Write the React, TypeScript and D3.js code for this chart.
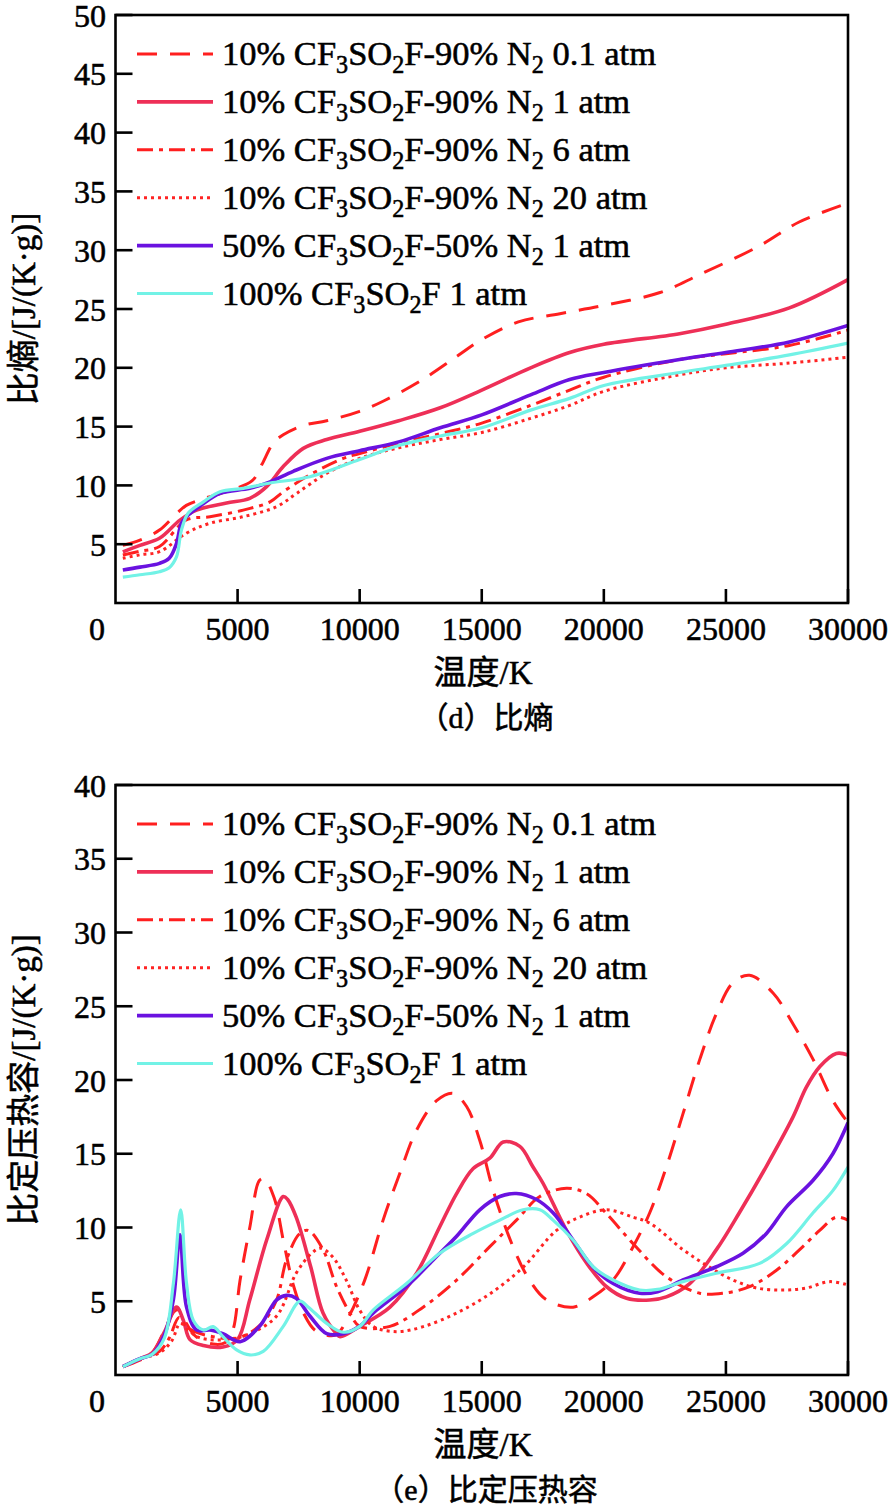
import React from "react";
import * as d3 from "d3";

type P = [number, number];

// ---------- (d) specific entropy, J/(K·g) ----------
const s_10_01atm: P[] = [[300,4.9],[1000,5.35],[1800,6.2],[2500,7.6],[2900,8.3],[3500,8.8],[4500,9.45],[5600,10.4],[6000,11.8],[6460,13.6],[6870,14.3],[7690,15.1],[8650,15.5],[10000,16.3],[11000,17.2],[12500,18.9],[14000,21.0],[15000,22.4],[16500,23.9],[18200,24.6],[20000,25.3],[22300,26.4],[23900,27.9],[26400,30.4],[28000,32.4],[30000,34.0]];
const s_10_1atm: P[] = [[300,4.35],[1000,4.9],[1800,5.5],[2640,7.05],[3320,7.9],[4550,8.5],[5500,8.9],[6190,9.9],[6870,11.6],[7690,13.15],[8650,13.9],[10000,14.6],[11600,15.5],[13300,16.6],[15000,18.1],[17000,20.0],[18600,21.3],[20000,22.0],[23100,22.9],[25000,23.7],[27600,25.1],[30000,27.5]];
const s_10_6atm: P[] = [[300,4.08],[1000,4.4],[1800,4.8],[2900,7.06],[3870,7.34],[5230,7.9],[6330,8.6],[6870,9.46],[7960,10.9],[9330,12.3],[10000,12.7],[11600,13.6],[13300,14.4],[15000,15.3],[17000,16.8],[18600,18.1],[20000,19.2],[23100,20.7],[25000,21.2],[27600,21.9],[30000,23.2]];
const s_10_20atm: P[] = [[300,3.8],[1000,4.1],[1800,4.36],[2900,5.93],[3870,6.78],[5230,7.34],[6600,8.19],[7420,9.32],[8650,11.03],[10000,12.3],[11600,13.2],[13300,13.9],[15000,14.5],[17000,15.7],[18600,16.8],[20000,18.0],[23100,19.4],[25000,20.0],[27600,20.4],[30000,20.9]];
const s_50_1atm: P[] = [[300,2.8],[1000,3.05],[1800,3.37],[2200,3.8],[2500,5.08],[2700,6.78],[2980,7.48],[3500,8.3],[4280,9.33],[5500,9.75],[6330,10.3],[7280,11.2],[8650,12.3],[10000,12.95],[11600,13.7],[13300,14.9],[15000,16.0],[17000,17.7],[18600,19.0],[20000,19.6],[23100,20.7],[25000,21.3],[27600,22.2],[30000,23.6]];
const s_100_1atm: P[] = [[300,2.2],[1000,2.4],[1800,2.66],[2200,3.0],[2500,3.94],[2700,6.2],[2980,7.65],[3600,8.6],[4280,9.47],[5230,9.75],[6330,10.2],[7960,10.74],[10000,12.2],[11600,13.4],[13300,14.2],[15000,14.9],[17000,16.4],[18600,17.4],[20000,18.5],[23100,19.6],[25000,20.2],[27600,21.1],[30000,22.1]];

// ---------- (e) specific heat at constant pressure, J/(K·g) ----------
const cp_10_01atm: P[] = [[300,0.56],[1000,1.0],[1500,1.5],[2000,3.0],[2400,4.3],[2600,4.4],[2900,3.5],[3300,2.6],[4000,2.1],[4500,2.2],[4800,3.0],[5100,6.4],[5500,10.0],[5900,13.2],[6100,13.3],[6500,12.0],[6900,8.9],[7300,6.0],[7700,4.2],[8200,3.0],[9000,2.7],[9500,3.8],[10200,6.4],[10960,10.5],[11650,13.7],[12330,16.6],[13150,18.6],[13830,19.1],[14380,18.2],[14920,15.9],[15470,12.5],[16280,8.7],[16970,6.4],[17650,5.1],[18740,4.6],[19560,5.3],[20380,6.44],[21200,8.7],[21880,11.0],[22560,14.1],[23240,17.7],[23930,21.4],[24610,24.5],[25290,26.6],[25970,27.1],[26930,25.9],[27750,23.8],[28570,21.4],[29380,18.6],[30000,17.1]];
const cp_10_1atm: P[] = [[300,0.56],[1000,1.1],[1500,1.5],[2000,2.9],[2500,4.6],[2780,3.7],[3050,2.4],[3600,2.0],[4400,1.9],[5000,2.4],[5500,5.1],[6200,9.2],[6870,12.1],[7050,11.9],[7400,10.7],[8000,7.3],[8500,4.2],[9050,2.8],[9200,2.6],[10000,3.3],[11240,4.6],[12330,6.9],[13280,10.05],[13970,12.3],[14650,14.0],[15330,14.7],[15880,15.8],[16560,15.5],[17100,14.1],[17510,13.0],[18470,9.8],[19290,7.6],[20100,6.0],[20930,5.2],[21880,5.08],[22560,5.3],[23520,6.2],[24610,8.5],[25550,11.0],[26640,14.1],[27750,17.5],[28290,19.5],[28840,20.9],[29520,21.8],[30000,21.7]];
const cp_10_6atm: P[] = [[300,0.56],[1000,1.1],[1800,1.6],[2200,2.5],[2600,3.9],[2900,3.3],[3300,2.9],[4000,2.6],[5000,2.5],[6000,3.5],[6600,5.1],[7000,7.8],[7550,9.6],[7900,9.8],[8500,8.5],[9050,6.0],[9600,4.2],[10000,3.3],[11240,3.3],[12600,4.6],[13970,6.44],[15330,8.7],[16420,10.5],[17380,12.1],[18470,12.66],[19290,12.3],[20100,10.96],[21200,8.9],[22560,6.66],[23930,5.54],[24880,5.54],[25970,5.99],[27070,7.1],[28020,8.5],[28840,9.8],[29520,10.7],[30000,10.5]];
const cp_10_20atm: P[] = [[300,0.56],[1000,1.1],[1800,1.5],[2300,2.3],[2650,3.5],[3000,3.0],[3500,2.5],[4500,2.4],[5500,2.8],[6600,4.0],[7400,6.9],[8000,8.2],[8400,8.6],[8900,8.0],[9460,6.4],[10000,4.4],[10550,3.3],[11510,2.94],[12600,3.28],[13970,4.2],[15330,5.5],[16690,7.3],[18060,9.8],[19010,10.7],[20100,11.2],[21200,10.7],[21880,10.3],[23240,8.5],[24340,7.3],[25290,6.44],[26250,5.9],[27340,5.76],[28290,5.9],[29250,6.33],[30000,6.1]];
const cp_50_1atm: P[] = [[300,0.56],[1000,1.1],[1500,1.4],[2000,2.7],[2370,5.1],[2640,9.5],[2910,4.6],[3320,3.05],[3870,3.05],[4400,2.8],[5100,2.26],[5900,3.3],[6600,5.1],[7000,5.4],[7400,5.2],[7960,4.0],[8650,2.8],[9330,2.8],[10000,3.3],[10550,4.2],[11920,6.0],[13010,7.8],[13970,9.4],[14920,11.2],[15740,12.1],[16420,12.3],[17240,11.9],[17920,11.0],[18740,9.15],[19560,7.3],[20380,6.2],[21470,5.54],[22200,5.65],[23240,6.44],[24610,7.34],[25700,8.25],[26660,9.6],[27480,11.4],[28570,13.2],[29380,15.0],[30000,17.1]];
const cp_100_1atm: P[] = [[300,0.56],[1000,1.1],[1500,1.4],[2000,2.5],[2370,6.2],[2670,11.2],[2910,6.2],[3190,3.7],[3600,3.05],[4000,3.28],[4400,2.6],[4960,1.7],[5500,1.36],[6050,1.6],[6870,3.3],[7550,5.0],[7900,4.6],[8650,3.5],[9330,2.9],[10000,3.3],[10550,4.4],[11920,6.2],[13280,8.25],[14650,9.6],[15740,10.5],[16690,11.2],[17380,11.2],[17920,10.5],[18740,9.15],[19560,7.34],[20380,6.44],[21470,5.76],[22200,5.8],[23240,6.33],[24610,6.9],[26380,7.57],[27480,8.9],[28570,11.0],[29380,12.5],[30000,14.1]];

// ---------- axes / legend text ----------
const xTicks = [5000, 10000, 15000, 20000, 25000, 30000];
const yTicksEntropy = [5, 10, 15, 20, 25, 30, 35, 40, 45, 50];
const yTicksCp = [5, 10, 15, 20, 25, 30, 35, 40];
const legendLabels = [
  "10% CF_3SO_2F-90% N_2 0.1 atm",
  "10% CF_3SO_2F-90% N_2 1 atm",
  "10% CF_3SO_2F-90% N_2 6 atm",
  "10% CF_3SO_2F-90% N_2 20 atm",
  "50% CF_3SO_2F-50% N_2 1 atm",
  "100% CF_3SO_2F 1 atm",
];

const styles = [
  { color: "#ff1f1f", width: 3, dash: "20,13" },
  { color: "#ee2f57", width: 3.6, dash: "" },
  { color: "#ff1f1f", width: 3, dash: "16,6,4,6" },
  { color: "#ff2424", width: 3, dash: "3,4" },
  { color: "#6a12e0", width: 3.6, dash: "" },
  { color: "#72f2e6", width: 3.2, dash: "" },
];

const SERIF = '"Liberation Serif", "Times New Roman", "Noto Sans CJK SC", serif';
const TXT = { fontFamily: SERIF, fill: "#000", stroke: "#000", strokeWidth: 0.55 } as const;

const xScale = d3.scaleLinear().domain([0, 30000]).range([115.5, 848]);
const L = 115.5, R = 848;

function Formula({ s, x, y, size }: { s: string; x: number; y: number; size: number }) {
  const parts: { t: string; sub: boolean }[] = [];
  let buf = "";
  for (let i = 0; i < s.length; i++) {
    if (s[i] === "_") {
      if (buf) parts.push({ t: buf, sub: false });
      buf = "";
      parts.push({ t: s[i + 1], sub: true });
      i++;
    } else buf += s[i];
  }
  if (buf) parts.push({ t: buf, sub: false });
  const off = size * 0.24;
  let prevSub = false;
  return (
    <text x={x} y={y} fontSize={size} {...TXT}>
      {parts.map((p, i) => {
        let dy = 0;
        if (p.sub && !prevSub) dy = off;
        if (!p.sub && prevSub) dy = -off;
        prevSub = p.sub;
        return (
          <tspan key={i} dy={dy} fontSize={p.sub ? size * 0.7 : size}>
            {p.t}
          </tspan>
        );
      })}
    </text>
  );
}

function Panel({ top, bottom, yMax, yTicks, series, yTitle, caption }: {
  top: number; bottom: number; yMax: number; yTicks: number[]; series: P[][]; yTitle: string; caption: string;
}) {
  const y = d3.scaleLinear().domain([0, yMax]).range([bottom, top]);
  const line = d3.line<P>().x((d) => xScale(d[0])).y((d) => y(d[1])).curve(d3.curveCatmullRom.alpha(0.5));
  const clipId = "clip" + top;
  return (
    <g>
      <defs>
        <clipPath id={clipId}>
          <rect x={L} y={top} width={R - L} height={bottom - top} />
        </clipPath>
      </defs>
      <g clipPath={`url(#${clipId})`}>
        {series.map((s, i) => (
          <path key={i} d={line(s) || ""} fill="none" stroke={styles[i].color} strokeWidth={styles[i].width}
            strokeDasharray={styles[i].dash || undefined} strokeLinejoin="round" />
        ))}
      </g>
      {/* legend */}
      {legendLabels.map((lab, i) => {
        const cy = top + 39 + i * 47.9;
        return (
          <g key={i}>
            <line x1={137} x2={213} y1={cy} y2={cy} stroke={styles[i].color} strokeWidth={styles[i].width}
              strokeDasharray={styles[i].dash || undefined} />
            <Formula s={lab} x={222} y={cy + 11} size={34.5} />
          </g>
        );
      })}
      {/* frame */}
      <rect x={L} y={top} width={R - L} height={bottom - top} fill="none" stroke="#000" strokeWidth={2.6} />
      {yTicks.map((t) => (
        <g key={t}>
          <line x1={L} x2={L + 17} y1={y(t)} y2={y(t)} stroke="#000" strokeWidth={2.6} />
          <text x={106} y={y(t) + 11.5} textAnchor="end" fontSize={32} {...TXT}>{t}</text>
        </g>
      ))}
      {xTicks.map((t) => (
        <g key={t}>
          <line x1={xScale(t)} x2={xScale(t)} y1={bottom} y2={bottom - 14} stroke="#000" strokeWidth={2.6} />
          <text x={xScale(t)} y={bottom + 37} textAnchor="middle" fontSize={32} {...TXT}>{t}</text>
        </g>
      ))}
      <text x={97} y={bottom + 37} textAnchor="middle" fontSize={32} {...TXT}>0</text>
      <text x={483} y={bottom + 81} textAnchor="middle" fontSize={33} {...TXT}>温度/K</text>
      <text x={486} y={bottom + 125} textAnchor="middle" fontSize={30} {...TXT}>{caption}</text>
      <text transform={`translate(24,${(top + bottom) / 2}) rotate(-90)`} textAnchor="middle" dominantBaseline="central"
        fontSize={33} {...TXT}>{yTitle}</text>
    </g>
  );
}

export default function App() {
  return (
    <svg width={893} height={1508} viewBox="0 0 893 1508" style={{ display: "block", position: "absolute", left: 0, top: 0, background: "#fff" }}>
      <rect width={893} height={1508} fill="#fff" />
      <Panel top={15} bottom={603} yMax={50} yTicks={yTicksEntropy}
        series={[s_10_01atm, s_10_1atm, s_10_6atm, s_10_20atm, s_50_1atm, s_100_1atm]}
        yTitle="比熵/[J/(K·g)]" caption="（d）比熵" />
      <Panel top={785} bottom={1375} yMax={40} yTicks={yTicksCp}
        series={[cp_10_01atm, cp_10_1atm, cp_10_6atm, cp_10_20atm, cp_50_1atm, cp_100_1atm]}
        yTitle="比定压热容/[J/(K·g)]" caption="（e）比定压热容" />
    </svg>
  );
}
